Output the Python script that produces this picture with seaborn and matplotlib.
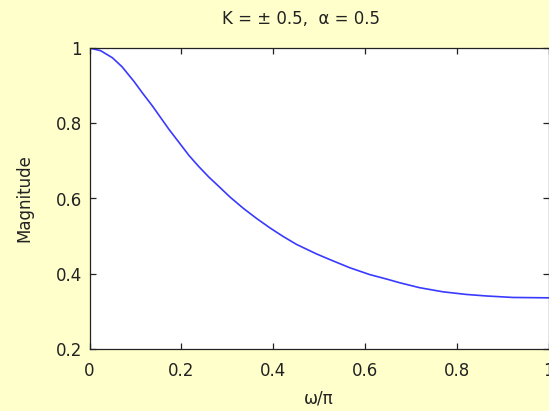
import matplotlib
matplotlib.use("Agg")
import matplotlib.pyplot as plt
import seaborn as sns
import pandas as pd

# Normalized frequency (omega/pi) and magnitude response samples
omega_norm = [0.0, 0.024, 0.050, 0.071, 0.097, 0.115, 0.137, 0.155, 0.173, 0.195,
              0.217, 0.238, 0.260, 0.281, 0.306, 0.335, 0.364, 0.393, 0.422, 0.451,
              0.494, 0.523, 0.567, 0.610, 0.650, 0.676, 0.719, 0.770, 0.821, 0.864,
              0.922, 1.0]
magnitude = [1.0, 0.993, 0.974, 0.950, 0.911, 0.881, 0.846, 0.815, 0.784, 0.749,
             0.714, 0.685, 0.657, 0.633, 0.604, 0.574, 0.547, 0.522, 0.499, 0.478,
             0.453, 0.438, 0.416, 0.398, 0.385, 0.376, 0.363, 0.352, 0.345, 0.341,
             0.337, 0.336]

x_ticks = [0, 0.2, 0.4, 0.6, 0.8, 1]
y_ticks = [0.2, 0.4, 0.6, 0.8, 1]

sns.set_style("white")
plt.rcParams["font.family"] = ["DejaVu Sans"]

bg = "#FFFFCC"
ink = "#222222"
fig = plt.figure(figsize=(5.49, 4.11), dpi=100, facecolor=bg)
ax = fig.add_axes([89.5 / 549, 1 - 349 / 411, (548.5 - 89.5) / 549, (349 - 48) / 411])
ax.set_facecolor("white")

df = pd.DataFrame({"w": omega_norm, "mag": magnitude})
sns.lineplot(data=df, x="w", y="mag", ax=ax, color="#3a3aff", linewidth=1.2)

ax.set_xlim(0, 1)
ax.set_ylim(0.2, 1)
ax.set_xticks(x_ticks)
ax.set_xticklabels([("%g" % t) for t in x_ticks])
ax.set_yticks(y_ticks)
ax.set_yticklabels([("%g" % t) for t in y_ticks])

for side in ["left", "right", "top", "bottom"]:
    ax.spines[side].set_visible(True)
    ax.spines[side].set_color(ink)
    ax.spines[side].set_linewidth(0.9)

ax.tick_params(direction="in", length=4, width=0.9, colors=ink,
               labelsize=12, top=True, right=True, bottom=True, left=True)
ax.tick_params(axis="x", pad=9)
ax.tick_params(axis="y", pad=5.5)

ax.set_xlabel("ω/π", fontsize=12, labelpad=7, color=ink)
ax.set_ylabel("Magnitude", fontsize=12, labelpad=16, color=ink)
ax.set_title("K = ± 0.5,  α = 0.5", fontsize=12, x=(301 - 89.5) / 459, pad=17,
             color=ink)

fig.savefig("out.png", dpi=100, facecolor=bg)
